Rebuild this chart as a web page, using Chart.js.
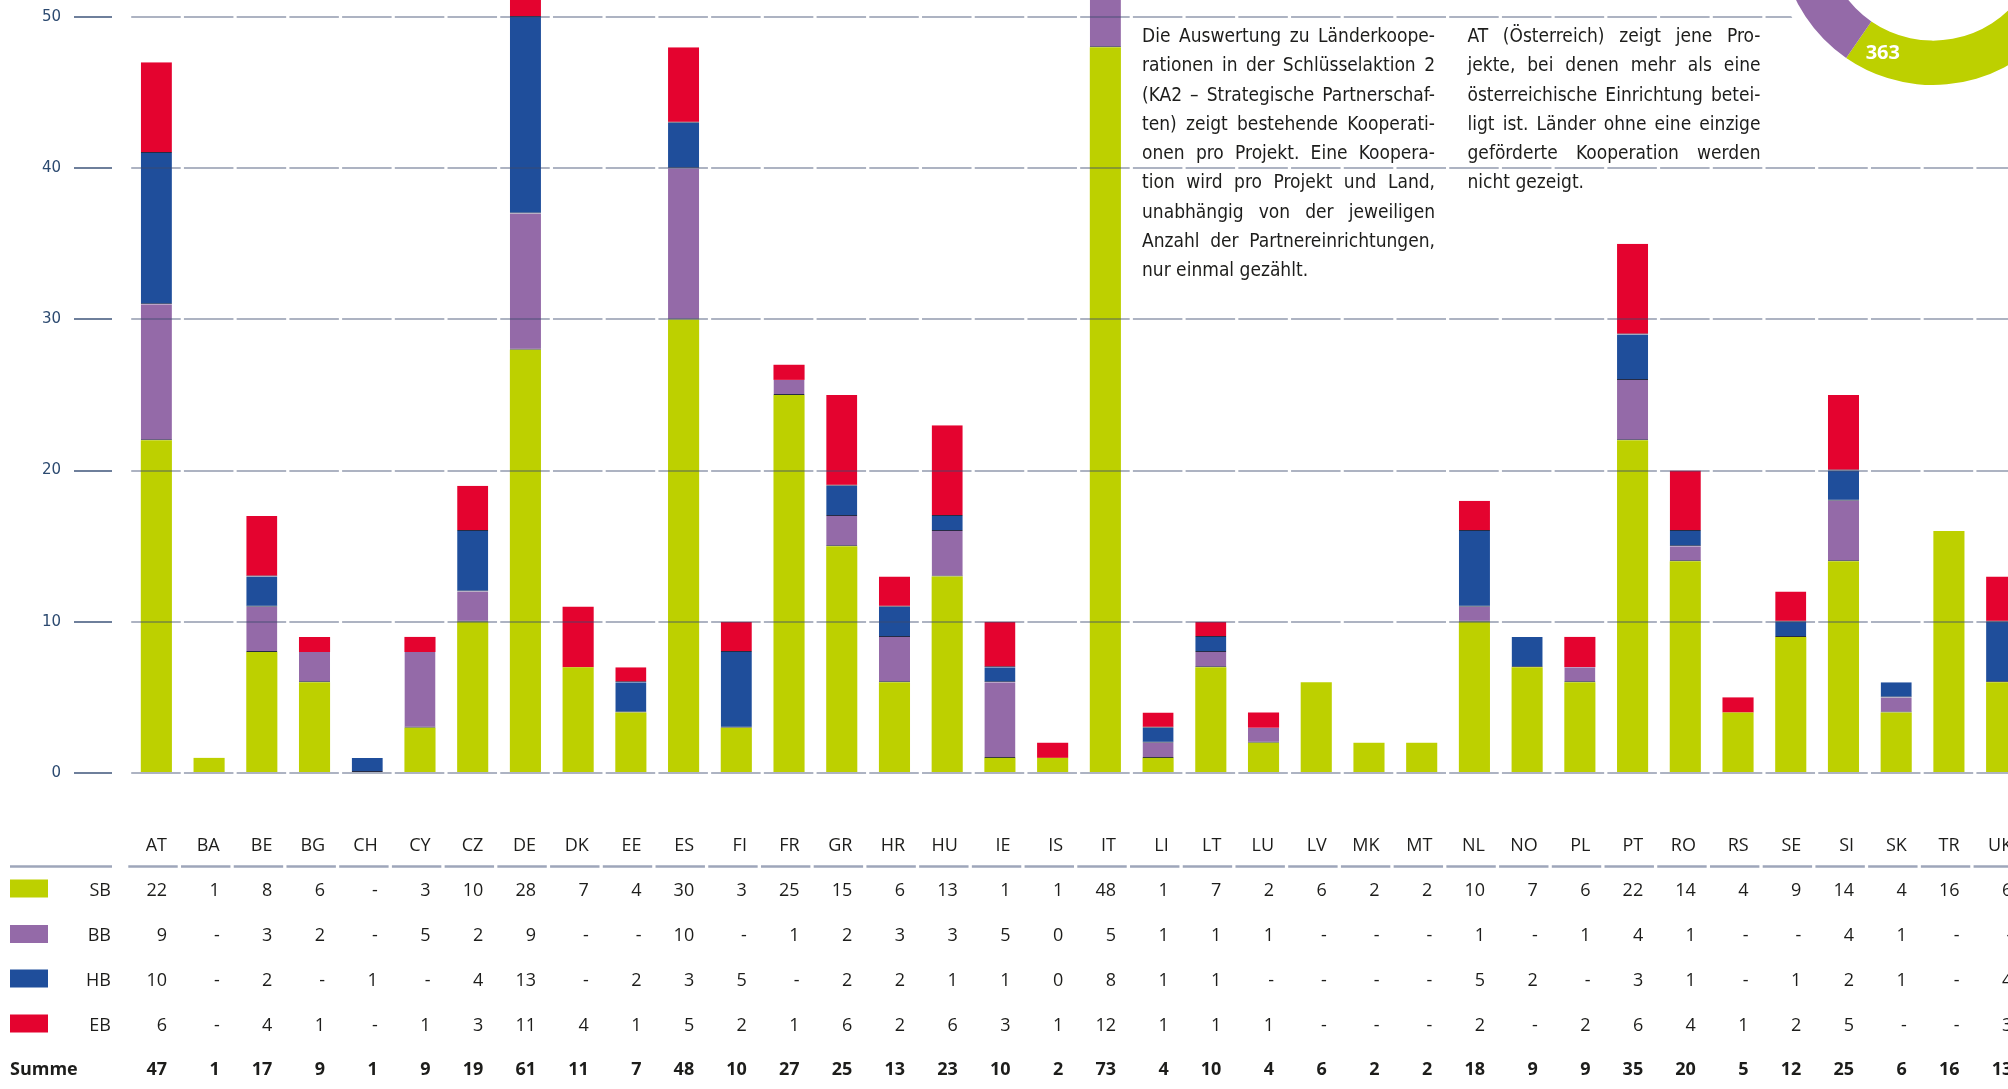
<!DOCTYPE html>
<html lang="de">
<head>
<meta charset="utf-8">
<title>KA2 – Länderkooperationen</title>
<script src="https://cdn.jsdelivr.net/npm/chart.js@4.4.1/dist/chart.umd.min.js"></script>
<style>
  html, body { margin: 0; padding: 0; background: #fff; width: 2008px; height: 1089px; overflow: hidden; }
  body { position: relative; }
  #bars { position: absolute; left: 0; top: 0; }
  #ring { position: absolute; left: 1763px; top: -238px; }
  .note {
    position: absolute; top: 21px; width: 293px;
    font-family: "DejaVu Sans Condensed", "DejaVu Sans", sans-serif; font-stretch: condensed;
    font-size: 19px; line-height: 29.3px; color: #1d1d1b;
  }
  .note span { display: block; white-space: nowrap; text-align: justify; text-align-last: justify; }
  .note span.last { text-align-last: left; }
</style>
</head>
<body>
<canvas id="bars" width="2028" height="1089"></canvas>
<canvas id="ring" width="340" height="340"></canvas>

<div class="note" style="left:1142px">
  <span>Die Auswertung zu Länderkoope-</span>
  <span>rationen in der Schlüsselaktion 2</span>
  <span>(KA2 – Strategische Partnerschaf-</span>
  <span>ten) zeigt bestehende Kooperati-</span>
  <span>onen pro Projekt. Eine Koopera-</span>
  <span>tion wird pro Projekt und Land,</span>
  <span>unabhängig von der jeweiligen</span>
  <span>Anzahl der Partnereinrichtungen,</span>
  <span class="last">nur einmal gezählt.</span>
</div>
<div class="note" style="left:1467.5px">
  <span>AT (Österreich) zeigt jene Pro-</span>
  <span>jekte, bei denen mehr als eine</span>
  <span>österreichische Einrichtung betei-</span>
  <span>ligt ist. Länder ohne eine einzige</span>
  <span>geförderte Kooperation werden</span>
  <span class="last">nicht gezeigt.</span>
</div>

<script>
// Kooperationen je Land, null = keine (in der Tabelle "-")
const countries = ["AT", "BA", "BE", "BG", "CH", "CY", "CZ", "DE", "DK", "EE", "ES", "FI", "FR", "GR", "HR", "HU", "IE", "IS",
                   "IT", "LI", "LT", "LU", "LV", "MK", "MT", "NL", "NO", "PL", "PT", "RO", "RS", "SE", "SI", "SK", "TR", "UK"];
const sb = [22, 1, 8, 6, null, 3, 10, 28, 7, 4, 30, 3, 25, 15, 6, 13, 1, 1,
            48, 1, 7, 2, 6, 2, 2, 10, 7, 6, 22, 14, 4, 9, 14, 4, 16, 6];
const bb = [9, null, 3, 2, null, 5, 2, 9, null, null, 10, null, 1, 2, 3, 3, 5, 0,
            5, 1, 1, 1, null, null, null, 1, null, 1, 4, 1, null, null, 4, 1, null, null];
const hb = [10, null, 2, null, 1, null, 4, 13, null, 2, 3, 5, null, 2, 2, 1, 1, 0,
            8, 1, 1, null, null, null, null, 5, 2, null, 3, 1, null, 1, 2, 1, null, 4];
const eb = [6, null, 4, 1, null, 1, 3, 11, 4, 1, 5, 2, 1, 6, 2, 6, 3, 1,
            12, 1, 1, 1, null, null, null, 2, null, 2, 6, 4, 1, 2, 5, null, null, 3];
const seriesNames = ["SB", "BB", "HB", "EB"];
const yTicks = [0, 10, 20, 30, 40, 50];

const GREEN = "#bdd000", PURPLE = "#946aa8", BLUE = "#1f4e9b", RED = "#e4032f";
const colors = [GREEN, PURPLE, BLUE, RED];
const INK = "#1d1d1b";
const SEAM = "#262b45";

const rows = [sb, bb, hb, eb];
const colSum = i => rows.reduce((a, r) => a + (r[i] || 0), 0);
const totals = rows.map(r => r.reduce((a, v) => a + (v || 0), 0));
const cell = v => (v === null ? "-" : String(v));

// table under the bars, columns follow the x scale
const tablePlugin = {
  id: "countryTable",
  afterDraw(chart) {
    const { ctx } = chart;
    const x = chart.scales.x;
    const step = x.getPixelForValue(1) - x.getPixelForValue(0);
    const right = i => x.getPixelForValue(i) + 10.6;

    ctx.save();
    ctx.textAlign = "right";
    ctx.textBaseline = "alphabetic";
    ctx.fillStyle = INK;
    ctx.font = '18px "Open Sans"';
    countries.forEach((c, i) => ctx.fillText(c, right(i), 851));

    ctx.strokeStyle = "#9ea6ba";
    ctx.lineWidth = 2.5;
    ctx.beginPath();
    ctx.moveTo(10, 866.5);
    ctx.lineTo(112, 866.5);
    countries.forEach((c, i) => {
      const left = x.getPixelForValue(i) - step / 2;
      ctx.moveTo(left - 1.7, 866.5);
      ctx.lineTo(left + step - 5, 866.5);
    });
    ctx.stroke();

    const baselines = [895.5, 941, 985.5, 1030.5];
    rows.forEach((vals, r) => {
      const y = baselines[r];
      ctx.fillStyle = colors[r];
      ctx.fillRect(10, y - 16, 38, 18);
      ctx.fillStyle = INK;
      ctx.fillText(seriesNames[r], 111, y);
      vals.forEach((v, i) => ctx.fillText(cell(v), right(i), y));
    });

    ctx.font = 'bold 18px "Open Sans"';
    ctx.textAlign = "left";
    ctx.fillText("Summe", 10, 1075);
    ctx.textAlign = "right";
    countries.forEach((c, i) => ctx.fillText(String(colSum(i)), right(i), 1075));
    ctx.restore();
  }
};

const bottomSeam = { top: 0, right: 0, bottom: 1, left: 0 };
const barSet = (label, data, color, seam) => ({
  label, data,
  backgroundColor: color,
  borderColor: SEAM,
  borderWidth: seam,
  borderSkipped: false,
  clip: false,
});

new Chart(document.getElementById("bars"), {
  type: "bar",
  data: {
    labels: countries,
    datasets: [
      barSet("SB", sb, GREEN, 0),
      barSet("BB", bb, PURPLE, bottomSeam),
      barSet("HB", hb, BLUE, bottomSeam),
      barSet("EB", eb, RED, (c) => (hb[c.dataIndex] ? bottomSeam : 0)),
    ],
  },
  options: {
    responsive: false,
    animation: false,
    devicePixelRatio: 1,
    layout: { padding: { top: 17, bottom: 316, left: 0, right: 0 } },
    datasets: { bar: { barPercentage: 0.59, categoryPercentage: 1 } },
    plugins: { legend: { display: false }, tooltip: { enabled: false } },
    scales: {
      x: { stacked: true, display: false },
      y: {
        stacked: true,
        min: 0,
        max: 50,
        afterFit: (s) => { s.width = 130; },
        afterBuildTicks: (s) => { s.ticks = yTicks.map((v) => ({ value: v })); },
        ticks: { padding: 0, color: "#2c4a70", font: { family: "DejaVu Sans", size: 15 } },
        grid: {
          z: 1,
          color: "rgba(60,75,110,0.42)",
          lineWidth: 2,
          // tick mark runs 61..130, the dash leaves only the short stroke 74..112
          tickLength: 69,
          tickWidth: 2,
          tickColor: "#6e7f9b",
          tickBorderDash: [38, 100],
          tickBorderDashOffset: 125,
        },
        border: { display: false, dash: [49.5, 3.22], dashOffset: 51.5 },
      },
    },
  },
  plugins: [tablePlugin],
});

// ring with the totals per series, white disc hides the grid behind it
const ringPlugin = {
  id: "ringLabels",
  beforeDatasetsDraw(chart) {
    const a = chart.getDatasetMeta(0).data[0];
    const { ctx } = chart;
    ctx.save();
    ctx.fillStyle = "#fff";
    ctx.beginPath();
    ctx.arc(a.x, a.y, a.outerRadius + 12, 0, Math.PI * 2);
    ctx.fill();
    ctx.restore();
  },
  afterDatasetsDraw(chart) {
    const { ctx } = chart;
    ctx.save();
    ctx.fillStyle = "#fff";
    ctx.font = 'bold 20px "Open Sans"';
    ctx.textAlign = "center";
    ctx.textBaseline = "middle";
    chart.getDatasetMeta(0).data.forEach((a, i) => {
      const ang = a.endAngle - 0.21;
      const r = (a.innerRadius + a.outerRadius) / 2;
      ctx.fillText(String(totals[i]), a.x + r * Math.cos(ang), a.y + r * Math.sin(ang));
    });
    ctx.restore();
  }
};

new Chart(document.getElementById("ring"), {
  type: "doughnut",
  data: {
    labels: seriesNames,
    datasets: [{ data: totals, backgroundColor: colors, borderWidth: 0 }],
  },
  options: {
    responsive: false,
    animation: false,
    devicePixelRatio: 1,
    cutout: "71%",
    layout: { padding: 17 },
    plugins: { legend: { display: false }, tooltip: { enabled: false } },
  },
  plugins: [ringPlugin],
});
</script>
</body>
</html>
